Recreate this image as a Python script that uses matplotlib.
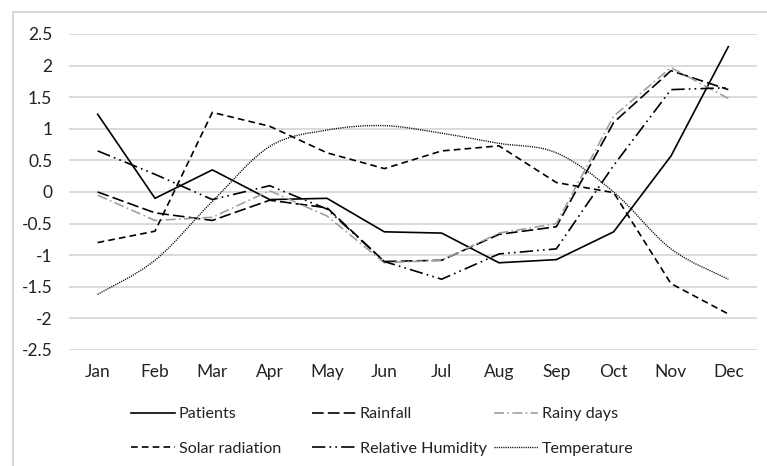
import matplotlib.pyplot as plt
from matplotlib.patches import Rectangle, PathPatch
from matplotlib.path import Path
from matplotlib.lines import Line2D

months = ["Jan", "Feb", "Mar", "Apr", "May", "Jun", "Jul", "Aug", "Sep", "Oct", "Nov", "Dec"]

patients = [1.23, -0.1, 0.35, -0.12, -0.1, -0.63, -0.65, -1.12, -1.07, -0.63, 0.57, 2.3]
rainfall = [0.0, -0.33, -0.45, -0.13, -0.25, -1.1, -1.08, -0.67, -0.55, 1.1, 1.92, 1.62]
rainy_days = [-0.05, -0.45, -0.4, 0.02, -0.38, -1.12, -1.08, -0.65, -0.5, 1.2, 1.97, 1.48]
solar = [-0.8, -0.62, 1.26, 1.04, 0.62, 0.37, 0.65, 0.73, 0.15, -0.01, -1.45, -1.93]
humidity = [0.65, 0.28, -0.12, 0.1, -0.27, -1.1, -1.38, -0.98, -0.9, 0.42, 1.62, 1.65]
temperature = [-1.62, -1.08, -0.15, 0.72, 0.98, 1.05, 0.93, 0.77, 0.62, 0.0, -0.9, -1.38]

yticks = [2.5, 2, 1.5, 1, 0.5, 0, -0.5, -1, -1.5, -2, -2.5]

plt.rcParams['font.family'] = ['Lato', 'DejaVu Sans']
fs = 12.5


def smooth_path(xs, ys):
    # Excel-like smoothed line: cubic bezier through the points
    verts = [(xs[0], ys[0])]
    codes = [Path.MOVETO]
    n = len(xs)
    for i in range(n - 1):
        x0, y0 = xs[max(i - 1, 0)], ys[max(i - 1, 0)]
        x1, y1 = xs[i], ys[i]
        x2, y2 = xs[i + 1], ys[i + 1]
        x3, y3 = xs[min(i + 2, n - 1)], ys[min(i + 2, n - 1)]
        c1 = (x1 + (x2 - x0) / 6, y1 + (y2 - y0) / 6)
        c2 = (x2 - (x3 - x1) / 6, y2 - (y3 - y1) / 6)
        verts += [c1, c2, (x2, y2)]
        codes += [Path.CURVE4] * 3
    return Path(verts, codes)


fig = plt.figure(figsize=(7.67, 4.66), dpi=100)
ax = fig.add_axes([69/767, 1-350/466, (757-69)/767, (350-34)/466])

# light frame round the whole chart
fig.patches.append(Rectangle((13/767, -0.1), 1.2, 1.1 - 12/466,
                             transform=fig.transFigure, fill=False,
                             edgecolor="#d0d0d0", linewidth=1.2))

x = list(range(len(months)))
lw = 1.2
l1, = ax.plot(x, patients, color="black", lw=lw, label="Patients")
l2, = ax.plot(x, rainfall, color="black", lw=lw, dashes=(7, 2.5), label="Rainfall")
l3, = ax.plot(x, rainy_days, color="#a0a0a0", lw=lw, dashes=(6, 2, 1, 2), label="Rainy days")
l4, = ax.plot(x, solar, color="black", lw=lw, dashes=(4, 2.5), label="Solar radiation")
l5, = ax.plot(x, humidity, color="black", lw=lw, dashes=(8, 2.5, 1, 2.5, 1, 2.5), label="Relative Humidity")

ax.add_patch(PathPatch(smooth_path(x, temperature), fill=False, edgecolor="black",
                       lw=1.0, linestyle=(0, (0.8, 0.8))))
l6 = Line2D([], [], color="black", lw=1.0, dashes=(0.8, 0.8), label="Temperature")

ax.set_xlim(-0.5, 11.5)
ax.set_ylim(-2.5, 2.5)
ax.set_xticks(x)
ax.set_xticklabels(months)
ax.set_yticks(yticks)
ax.set_yticklabels([f"{v:g}" for v in yticks])
ax.tick_params(length=0, labelsize=fs, colors="#222222")
ax.tick_params(axis="y", pad=12)
ax.tick_params(axis="x", pad=10)
for s in ax.spines.values():
    s.set_visible(False)
ax.grid(axis="y", color="#d4d4d4", lw=1.2)
ax.set_axisbelow(True)

# legend: three columns of two entries, equal column widths like Excel
cols = [[l1, l4], [l2, l5], [l3, l6]]
col_x = [131, 312, 494]
for hs, cx in zip(cols, col_x):
    leg = fig.legend(hs, [h.get_label() for h in hs], frameon=False,
                     loc="center left", bbox_to_anchor=(cx/767, 1-431.5/466),
                     borderaxespad=0, borderpad=0, fontsize=11.6,
                     handlelength=2.7, handletextpad=0.25, labelspacing=1.25,
                     labelcolor="#222222")

fig.savefig("out.png", dpi=100)
